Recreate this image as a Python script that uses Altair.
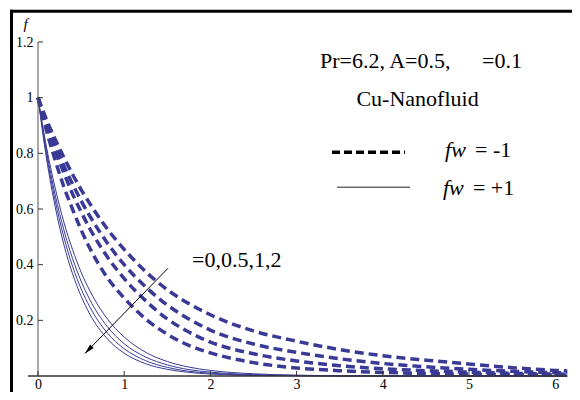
import altair as alt
import pandas as pd

SERIF = "Liberation Serif"
CURVE = "#3a3a96"

# ---- curve data ----
eta = [0, 0.1, 0.2, 0.3, 0.4, 0.5, 0.6, 0.8, 1.0, 1.25, 1.5, 1.75, 2.0, 2.5,
       3.0, 3.5, 4.0, 4.5, 5.0, 5.5, 6.0, 6.14]

# fw = -1 (dashed)
dash_1 = [1, 0.92, 0.85, 0.785, 0.725, 0.67, 0.62, 0.53, 0.455, 0.375, 0.31, 0.26, 0.22, 0.162,
          0.125, 0.095, 0.073, 0.057, 0.043, 0.03, 0.02, 0.018]
dash_2 = [1, 0.91, 0.83, 0.755, 0.69, 0.63, 0.575, 0.48, 0.40, 0.32, 0.255, 0.205, 0.165, 0.115,
          0.085, 0.062, 0.045, 0.033, 0.024, 0.017, 0.012, 0.011]
dash_3 = [1, 0.90, 0.81, 0.73, 0.655, 0.59, 0.53, 0.43, 0.35, 0.27, 0.205, 0.158, 0.122, 0.08,
          0.054, 0.037, 0.026, 0.019, 0.014, 0.01, 0.007, 0.006]
dash_4 = [1, 0.88, 0.775, 0.68, 0.60, 0.525, 0.46, 0.355, 0.28, 0.205, 0.15, 0.11, 0.083, 0.048,
          0.029, 0.019, 0.013, 0.009, 0.007, 0.005, 0.004, 0.004]

# fw = +1 (solid)
solid_1 = [1, 0.82, 0.675, 0.553, 0.455, 0.373, 0.307, 0.207, 0.14, 0.085, 0.052, 0.032, 0.02, 0.008,
           0.003, 0.001, 0, 0, 0, 0, 0, 0]
solid_2 = [1, 0.806, 0.65, 0.525, 0.423, 0.341, 0.275, 0.179, 0.116, 0.068, 0.04, 0.023, 0.014, 0.005,
           0.002, 0.001, 0, 0, 0, 0, 0, 0]
solid_3 = [1, 0.793, 0.629, 0.499, 0.395, 0.313, 0.249, 0.156, 0.098, 0.055, 0.031, 0.017, 0.01, 0.003,
           0.001, 0, 0, 0, 0, 0, 0, 0]
solid_4 = [1, 0.779, 0.607, 0.472, 0.368, 0.287, 0.223, 0.135, 0.082, 0.044, 0.024, 0.013, 0.007, 0.002,
           0.001, 0, 0, 0, 0, 0, 0, 0]

x_ticks = [0, 1, 2, 3, 4, 5, 6]
y_ticks = [0.2, 0.4, 0.6, 0.8, 1.0, 1.2]
X_MIN, X_MAX = -0.116, 6.137
Y_MIN, Y_MAX = 0, 1.2

# annotations (data coordinates)
txt_plain = ["Pr=6.2, A=0.5,", "=0.1", "= -1", "= +1", "=0,0.5,1,2"]
txt_plain_x = [3.271, 5.151, 5.070, 5.046, 1.787]
txt_plain_y = [1.1065, 1.1065, 0.7863, 0.6496, 0.3917]
txt_center = ["Cu-Nanofluid"]
txt_center_x = [4.403]
txt_center_y = [0.9698]
txt_italic = ["fw", "fw"]
txt_italic_x = [4.722, 4.698]
txt_italic_y = [0.7863, 0.6496]
ylab_text = ["f"]
ylab_x = [-0.145]
ylab_y = [1.2468]

leg_dash = {"x": [3.411], "x2": [4.258], "y": [0.8043]}
leg_solid = {"x": [3.469], "x2": [4.316], "y": [0.6784]}

arrow_x = [1.508, 0.545]
arrow_y = [0.387, 0.081]

W, H = 539, 334

xs = alt.Scale(domain=[X_MIN, X_MAX], nice=False, zero=False)
ys = alt.Scale(domain=[Y_MIN, Y_MAX], nice=False, zero=False)
xaxis = alt.Axis(values=x_ticks, title=None, domain=False, ticks=False, grid=False,
                 labelPadding=12, labelBaseline="alphabetic", labelFont=SERIF,
                 labelFontSize=14, labelColor="black", labelFlush=False, format="~g")
yaxis = alt.Axis(values=y_ticks, title=None, domain=False, ticks=False, grid=False,
                 labelPadding=5, offset=-10, labelFont=SERIF, labelFontSize=14,
                 labelColor="black", format="~g")


def X(f):
    return alt.X(f, type="quantitative", scale=xs, axis=xaxis)


def Y(f):
    return alt.Y(f, type="quantitative", scale=ys, axis=yaxis)


def long_df(series):
    rows = []
    for name, vals in series.items():
        for e, v in zip(eta, vals):
            rows.append({"eta": e, "f": v, "curve": name})
    return pd.DataFrame(rows)


dash_df = long_df({"d1": dash_1, "d2": dash_2, "d3": dash_3, "d4": dash_4})
solid_df = long_df({"s1": solid_1, "s2": solid_2, "s3": solid_3, "s4": solid_4})

dashed = alt.Chart(dash_df).mark_line(
    color=CURVE, strokeWidth=3.5, strokeDash=[9, 5], interpolate="monotone"
).encode(x=X("eta"), y=Y("f"), detail="curve:N")

solid = alt.Chart(solid_df).mark_line(
    color=CURVE, strokeWidth=1, interpolate="monotone"
).encode(x=X("eta"), y=Y("f"), detail="curve:N")

# axes lines and inward ticks
xaxis_line = alt.Chart(pd.DataFrame({"x": [X_MIN], "x2": [X_MAX], "y": [0]})).mark_rule(
    color="#333333", strokeWidth=1.5
).encode(x=X("x"), x2="x2", y=Y("y"))
yaxis_line = alt.Chart(pd.DataFrame({"x": [0], "y": [0], "y2": [Y_MAX]})).mark_rule(
    color="#555555", strokeWidth=1
).encode(x=X("x"), y=Y("y"), y2="y2")
xt = alt.Chart(pd.DataFrame({"v": x_ticks, "y0": [0] * 7, "y1": [0.018] * 7})).mark_rule(
    color="#333333", strokeWidth=1
).encode(x=X("v"), y=Y("y0"), y2="y1")
yt = alt.Chart(pd.DataFrame({"v": y_ticks, "x0": [0] * 6, "x1": [0.058] * 6})).mark_rule(
    color="#333333", strokeWidth=1
).encode(y=Y("v"), x=X("x0"), x2="x1")

plain = alt.Chart(pd.DataFrame({"t": txt_plain, "x": txt_plain_x, "y": txt_plain_y})).mark_text(
    font=SERIF, fontSize=22, align="left", baseline="alphabetic", color="black"
).encode(x=X("x"), y=Y("y"), text="t:N")
center = alt.Chart(pd.DataFrame({"t": txt_center, "x": txt_center_x, "y": txt_center_y})).mark_text(
    font=SERIF, fontSize=22, align="center", baseline="alphabetic", color="black"
).encode(x=X("x"), y=Y("y"), text="t:N")
italic = alt.Chart(pd.DataFrame({"t": txt_italic, "x": txt_italic_x, "y": txt_italic_y})).mark_text(
    font=SERIF, fontSize=22, fontStyle="italic", align="left", baseline="alphabetic", color="black"
).encode(x=X("x"), y=Y("y"), text="t:N")
ylab = alt.Chart(pd.DataFrame({"t": ylab_text, "x": ylab_x, "y": ylab_y})).mark_text(
    font=SERIF, fontSize=15, fontStyle="italic", align="center", baseline="alphabetic", color="black"
).encode(x=X("x"), y=Y("y"), text="t:N")

legd = alt.Chart(pd.DataFrame(leg_dash)).mark_rule(
    color="black", strokeWidth=3.5, strokeDash=[8, 4]
).encode(x=X("x"), x2="x2", y=Y("y"))
legs = alt.Chart(pd.DataFrame(leg_solid)).mark_rule(
    color="#222222", strokeWidth=1
).encode(x=X("x"), x2="x2", y=Y("y"))

arrow_df = pd.DataFrame({"x": arrow_x, "y": arrow_y, "o": [0, 1]})
arrow = alt.Chart(arrow_df).mark_line(color="black", strokeWidth=1).encode(
    x=X("x"), y=Y("y"), order="o:Q"
)
head = alt.Chart(arrow_df.iloc[[1]]).mark_point(
    shape="M0,0L0.5,2L-0.5,2Z", filled=True, color="black", opacity=1, size=100, angle=224
).encode(x=X("x"), y=Y("y"))

dummy = pd.DataFrame({"a": [0]})
border_left = alt.Chart(dummy).mark_rule(color="black", strokeWidth=3).encode(
    x=alt.value(-16.5), y=alt.value(-32.2), y2=alt.value(H + 60)
)
border_top = alt.Chart(dummy).mark_rule(color="black", strokeWidth=3).encode(
    x=alt.value(-18), x2=alt.value(W + 40), y=alt.value(-30.7)
)

chart = alt.layer(
    dashed, solid, xaxis_line, yaxis_line, xt, yt, plain, center, italic, ylab,
    legd, legs, arrow, head, border_left, border_top
).properties(
    width=W, height=H,
    padding={"left": 20, "top": 34, "right": 5, "bottom": 16},
    autosize=alt.AutoSizeParams(type="none"),
    background="white",
).configure_view(stroke=None).configure_axis(
    labelFont=SERIF, labelFontSize=14, labelColor="black", grid=False
)

chart.save("out.html", embed_options={"renderer": "svg", "actions": False})
